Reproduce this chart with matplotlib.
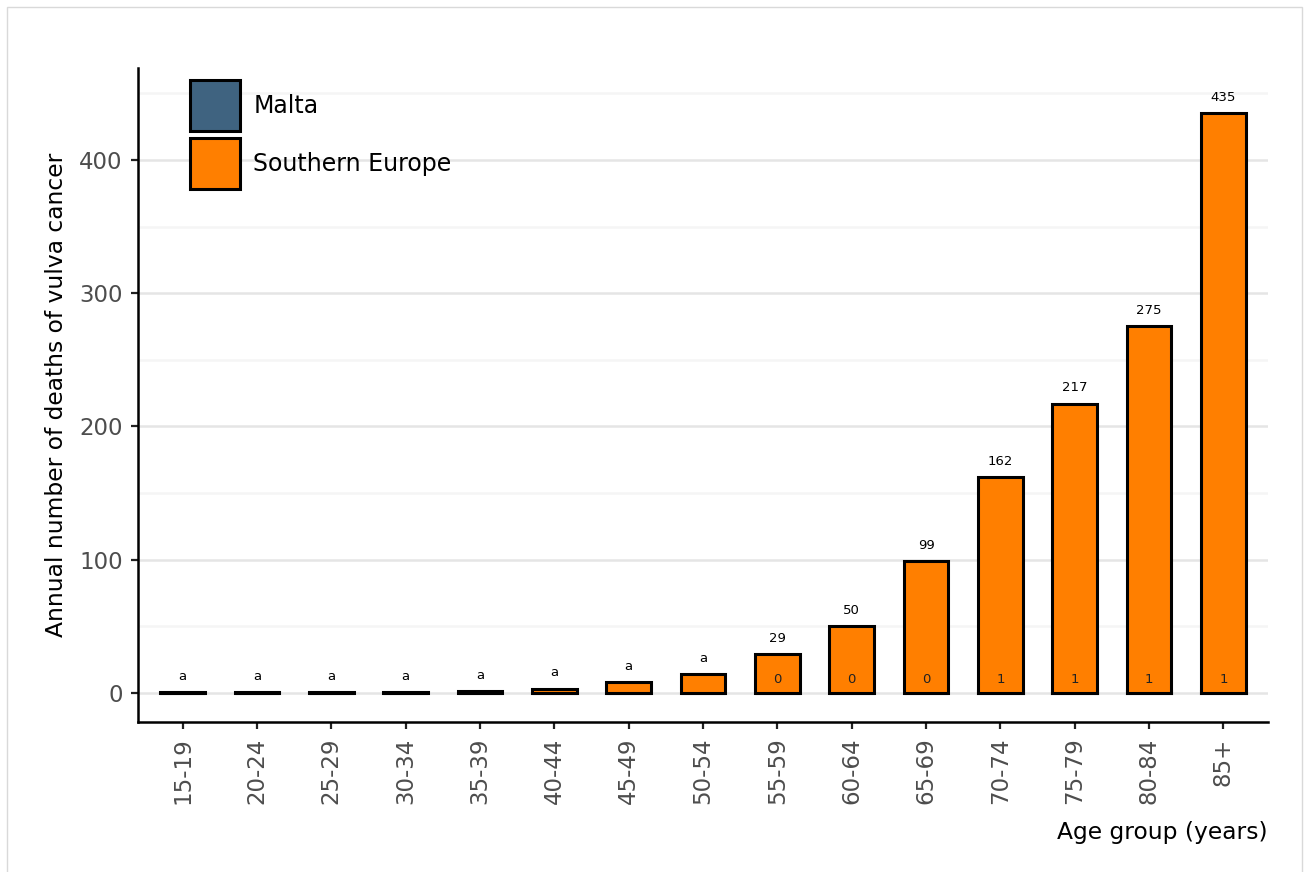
import numpy as np
import matplotlib.pyplot as plt
from matplotlib.patches import Patch, Rectangle

age_groups = ['15-19', '20-24', '25-29', '30-34', '35-39', '40-44', '45-49', '50-54',
              '55-59', '60-64', '65-69', '70-74', '75-79', '80-84', '85+']
southern_europe = [0.3, 0.3, 0.4, 0.5, 1, 3, 8, 14, 29, 50, 99, 162, 217, 275, 435]
malta = [0, 0, 0, 0, 0, 0, 0, 0, 0, 0, 0, 1, 1, 1, 1]
se_labels = ['a', 'a', 'a', 'a', 'a', 'a', 'a', 'a',
             '29', '50', '99', '162', '217', '275', '435']
malta_labels = ['', '', '', '', '', '', '', '',
                '0', '0', '0', '1', '1', '1', '1']

malta_color = '#3f6380'
se_color = '#ff7f00'

fig = plt.figure(figsize=(13.09, 8.72), dpi=100)
ax = fig.add_axes([0.1054, 0.172, 0.8633, 0.750])

x = np.arange(len(age_groups))
ax.bar(x, malta, width=0.6, color=malta_color, edgecolor='black', linewidth=2.2, zorder=2)
ax.bar(x, southern_europe, width=0.6, color=se_color, edgecolor='black', linewidth=2.2, zorder=3)

for i in range(len(age_groups)):
    ax.text(x[i], southern_europe[i] + 7, se_labels[i], ha='center', va='bottom',
            fontsize=9.5, zorder=5)
    if malta_labels[i]:
        ax.text(x[i], 5, malta_labels[i], ha='center', va='bottom', fontsize=9.5,
                color='#222222', zorder=5)

ax.set_xlim(-0.6, 14.6)
ax.set_ylim(-22, 469)
ax.set_xticks(x)
ax.set_xticklabels(age_groups, rotation=90)
ax.set_yticks([0, 100, 200, 300, 400])
ax.set_yticks([50, 150, 250, 350, 450], minor=True)
ax.grid(axis='y', which='major', color='#e5e5e5', linewidth=1.8, zorder=0)
ax.grid(axis='y', which='minor', color='#f5f5f5', linewidth=1.8, zorder=0)
ax.set_axisbelow(True)
ax.tick_params(axis='both', which='major', labelsize=16.5, labelcolor='#4d4d4d',
               color='#222222', length=5, width=1.6, pad=6)
ax.tick_params(axis='y', which='minor', length=0)
for s in ['top', 'right']:
    ax.spines[s].set_visible(False)
for s in ['left', 'bottom']:
    ax.spines[s].set_linewidth(1.8)

ax.set_ylabel('Annual number of deaths of vulva cancer', fontsize=16.8, labelpad=8)
ax.set_xlabel('Age group (years)', fontsize=16.8, loc='right', labelpad=12)

handles = [Patch(facecolor=malta_color, edgecolor='black', linewidth=2.2, label='Malta'),
           Patch(facecolor=se_color, edgecolor='black', linewidth=2.2, label='Southern Europe')]
ax.legend(handles=handles, loc='upper left', bbox_to_anchor=(0.027, 1.014), frameon=False,
          fontsize=17, handlelength=2.15, handleheight=2.95, labelspacing=0.3,
          handletextpad=0.55)

fig.patches.append(Rectangle((7 / 1309, -0.01), 1295 / 1309, 1 - 7 / 872 + 0.01,
                             transform=fig.transFigure, fill=False,
                             edgecolor='#d9d9d9', linewidth=1))

fig.savefig('out.png', dpi=100)
